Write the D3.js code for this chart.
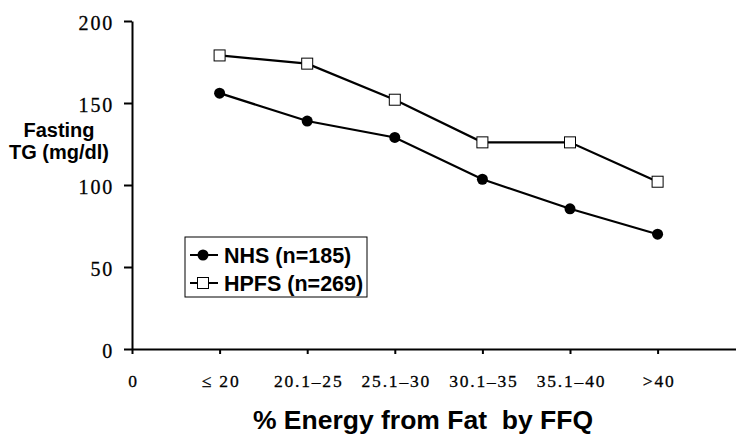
<!DOCTYPE html>
<html>
<head>
<meta charset="utf-8">
<script src="https://cdn.jsdelivr.net/npm/d3@7"></script>
<style>
  html, body { margin: 0; padding: 0; background: #fff; }
  .axis path, .axis line { stroke: #000; stroke-width: 2px; }
  .axis text { font-family: "Liberation Serif", "Times New Roman", serif; fill: #000; stroke: #000; stroke-width: 0.3px; }
  .label { font-family: "Liberation Sans", Arial, sans-serif; font-weight: bold; fill: #000; }
</style>
</head>
<body>
<div id="chart"></div>
<script>
// Data
var categories = ["\u2264 20", "20.1\u201325", "25.1\u201330", "30.1\u201335", "35.1\u201340", ">40"];
var nhs        = [156, 139, 129, 103.5, 85.5, 70];
var hpfs       = [179, 174, 152, 126, 126, 102];
var yTicks     = [0, 50, 100, 150, 200];
var seriesNames = ["NHS (n=185)", "HPFS (n=269)"];

(function() {
  var
  width  = 736,
  height = 437,
  margin = { left: 132, top: 21 },
  step   = 87.6
  ;

  var svg = d3.select("#chart").append("svg")
      .attr("width", width)
      .attr("height", height);

  // x: 0 at the y axis, categories at 1..6
  var x = d3.scaleLinear()
    .domain([0, 7])
    .range([margin.left, margin.left + step * 7]);

  var y = d3.scaleLinear()
    .domain([0, 200])
    .range([349, margin.top]);

  var tickLabels = ["0"].concat(categories);

  var xAxis = d3.axisBottom(x)
    .tickValues(d3.range(0, 7))
    .tickSize(5)
    .tickSizeOuter(0)
    .tickFormat(function(d) { return tickLabels[d]; });

  var gx = svg.append("g")
    .attr("class", "axis")
    .attr("transform", "translate(0," + y(0) + ")")
    .call(xAxis);

  gx.selectAll("text")
    .attr("y", 26)
    .attr("dx", "1px")
    .style("font-size", "17.5px")
    .style("letter-spacing", "1.8px");

  var yAxis = d3.axisLeft(y)
    .tickValues(yTicks)
    .tickSize(8)
    .tickSizeOuter(0);

  var gy = svg.append("g")
    .attr("class", "axis")
    .attr("transform", "translate(" + margin.left + ",0)")
    .call(yAxis);

  gy.selectAll("text")
    .attr("x", -18)
    .attr("dy", "0.42em")
    .style("font-size", "20px")
    .style("letter-spacing", "1.8px");

  // Lines
  var line = d3.line()
    .x(function(d, i) { return x(i + 1); })
    .y(function(d) { return y(d); });

  [hpfs, nhs].forEach(function(s) {
    svg.append("path")
      .datum(s)
      .attr("d", line)
      .attr("fill", "none")
      .attr("stroke", "#000")
      .attr("stroke-width", 2.2);
  });

  // Markers
  svg.append("g").selectAll("circle")
      .data(nhs)
    .enter().append("circle")
      .attr("cx", function(d, i) { return x(i + 1); })
      .attr("cy", function(d) { return y(d); })
      .attr("r", 5.5)
      .attr("fill", "#000");

  svg.append("g").selectAll("rect")
      .data(hpfs)
    .enter().append("rect")
      .attr("x", function(d, i) { return x(i + 1) - 5.5; })
      .attr("y", function(d) { return y(d) - 5.5; })
      .attr("width", 11)
      .attr("height", 11)
      .attr("fill", "#fff")
      .attr("stroke", "#000")
      .attr("stroke-width", 1);

  // Axis titles
  var ylab = svg.append("text")
    .attr("class", "label")
    .attr("text-anchor", "middle")
    .style("font-size", "20px");

  ylab.append("tspan").attr("x", 59).attr("y", 137).text("Fasting");
  ylab.append("tspan").attr("x", 59).attr("y", 159).text("TG (mg/dl)");

  svg.append("text")
    .attr("class", "label")
    .attr("x", 423)
    .attr("y", 429)
    .attr("text-anchor", "middle")
    .style("font-size", "26.5px")
    .style("white-space", "pre")
    .text("% Energy from Fat  by FFQ");

  // Legend
  var legend = svg.append("g")
    .attr("transform", "translate(185,237)");

  legend.append("rect")
    .attr("width", 182)
    .attr("height", 60)
    .attr("fill", "#fff")
    .attr("stroke", "#000")
    .attr("stroke-width", 1);

  var rows = legend.selectAll("g.row")
      .data(seriesNames)
    .enter().append("g")
      .attr("class", "row")
      .attr("transform", function(d, i) { return "translate(0," + (18 + i * 28) + ")"; });

  rows.append("line")
    .attr("x1", 5)
    .attr("x2", 33)
    .attr("stroke", "#000")
    .attr("stroke-width", 2);

  rows.each(function(d, i) {
    var row = d3.select(this);
    if (i == 0) {
      row.append("circle").attr("cx", 18).attr("r", 5.5).attr("fill", "#000");
    } else {
      row.append("rect")
        .attr("x", 12.5).attr("y", -5.5)
        .attr("width", 11).attr("height", 11)
        .attr("fill", "#fff").attr("stroke", "#000").attr("stroke-width", 1);
    }
  });

  rows.append("text")
    .attr("class", "label")
    .attr("x", 39)
    .attr("dy", "0.36em")
    .style("font-size", "21.5px")
    .text(function(d) { return d; });
})();
</script>
</body>
</html>
